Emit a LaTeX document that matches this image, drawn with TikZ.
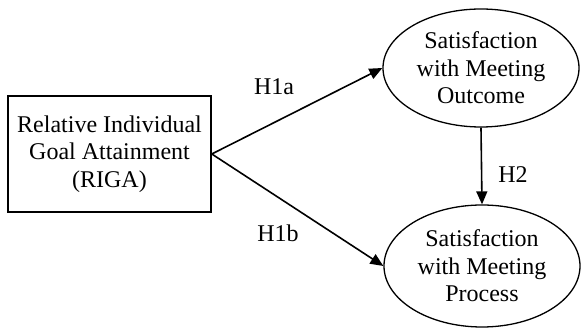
\documentclass[tikz,border=0pt]{standalone}
\usepackage{fontspec}
\setmainfont{Liberation Serif}
\usetikzlibrary{arrows.meta,shapes.geometric}
\begin{document}
\begin{tikzpicture}[x=1pt,y=-1pt,
  every node/.style={font=\fontsize{24pt}{27.5pt}\selectfont, text=black},
  boxnode/.style={draw, line width=1.6pt, minimum width=203pt, minimum height=116pt, inner sep=0pt, align=center},
  ellnode/.style={draw, ellipse, line width=1.3pt, inner sep=0pt, align=center},
  arr/.style={line width=1.6pt, -{Triangle[length=13pt,width=11pt]}},
  lbl/.style={inner sep=0pt}]
\useasboundingbox (0,0) rectangle (582,328);
\node[boxnode] (riga) at (109.5,154) {Relative Individual\\Goal Attainment\\(RIGA)};
\node[ellnode, minimum width=196pt, minimum height=118pt] (out) at (481,68) {Satisfaction\\with Meeting\\Outcome};
\node[ellnode, minimum width=196pt, minimum height=122pt] (proc) at (482,266) {Satisfaction\\with Meeting\\Process};
\draw[arr] (riga.east) -- (out.west);
\draw[arr] (riga.east) -- (proc.west);
\draw[arr] (out.south) -- (proc.north);
\node[lbl] (h1a) at (274,87) {H1a};
\node[lbl] (h1b) at (278,233) {H1b};
\node[lbl] (h2) at (513,175) {H2};
\end{tikzpicture}
\end{document}
